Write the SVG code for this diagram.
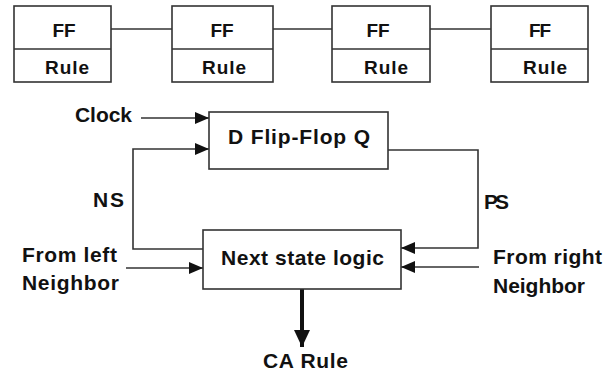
<svg xmlns="http://www.w3.org/2000/svg" width="616" height="373" viewBox="0 0 616 373">
<style>
.box{fill:#fff;stroke:#333;stroke-width:1.6}
.ln{fill:none;stroke:#333;stroke-width:1.6}
.thick{fill:none;stroke:#111;stroke-width:4}
text{font-family:"Liberation Sans",Arial,sans-serif;font-weight:bold;fill:#111}
.s17{font-size:19px}
.s19{font-size:21px}
.mid{text-anchor:middle}
</style>
<defs>
<marker id="arr" viewBox="0 0 14 12" refX="14" refY="6" markerWidth="14" markerHeight="12" markerUnits="userSpaceOnUse" orient="auto">
<path d="M0,0 L14,6 L0,12 z" fill="#111"/>
</marker>
<marker id="big" viewBox="0 0 17 16" refX="17" refY="8" markerWidth="17" markerHeight="16" markerUnits="userSpaceOnUse" orient="auto">
<path d="M0,0 L17,8 L0,16 z" fill="#111"/>
</marker>
</defs>
<g id="connectors">
<line class="ln" x1="111" y1="29" x2="172" y2="29"/>
<line class="ln" x1="273" y1="29" x2="332" y2="29"/>
<line class="ln" x1="430" y1="29" x2="491" y2="29"/>
<line class="ln" x1="141" y1="118" x2="209" y2="118" marker-end="url(#arr)"/>
<path class="ln" d="M203,249 H133 V149 H209" marker-end="url(#arr)"/>
<path class="ln" d="M388,150 H478 V248 H401" marker-end="url(#arr)"/>
<line class="ln" x1="126" y1="268" x2="203" y2="268" marker-end="url(#arr)"/>
<line class="ln" x1="479" y1="267" x2="401" y2="267" marker-end="url(#arr)"/>
<line class="thick" x1="302" y1="289" x2="302" y2="347" marker-end="url(#big)"/>
</g>
<g id="cell1">
<rect class="box" x="14" y="6" width="97" height="76"/>
<line class="ln" x1="14" y1="49" x2="111" y2="49"/>
<text class="s17 mid" x="64" y="37" textLength="23" lengthAdjust="spacing">FF</text>
<text class="s17 mid" x="67" y="74" textLength="44" lengthAdjust="spacing">Rule</text>
</g>
<g id="cell2">
<rect class="box" x="172" y="6" width="101" height="76"/>
<line class="ln" x1="172" y1="49" x2="273" y2="49"/>
<text class="s17 mid" x="222" y="37" textLength="23" lengthAdjust="spacing">FF</text>
<text class="s17 mid" x="224" y="74" textLength="44" lengthAdjust="spacing">Rule</text>
</g>
<g id="cell3">
<rect class="box" x="332" y="6" width="98" height="76"/>
<line class="ln" x1="332" y1="49" x2="430" y2="49"/>
<text class="s17 mid" x="378" y="37" textLength="23" lengthAdjust="spacing">FF</text>
<text class="s17 mid" x="386" y="74" textLength="44" lengthAdjust="spacing">Rule</text>
</g>
<g id="cell4">
<rect class="box" x="491" y="6" width="97" height="76"/>
<line class="ln" x1="491" y1="49" x2="588" y2="49"/>
<text class="s17 mid" x="540" y="37" textLength="22" lengthAdjust="spacing">FF</text>
<text class="s17 mid" x="545" y="74" textLength="44" lengthAdjust="spacing">Rule</text>
</g>
<g id="dff">
<rect class="box" x="209" y="112" width="179" height="57"/>
<text class="s19" x="228" y="144" textLength="142" lengthAdjust="spacing">D Flip-Flop Q</text>
</g>
<g id="nsl">
<rect class="box" x="203" y="230" width="198" height="59"/>
<text class="s19" x="221" y="265" textLength="163" lengthAdjust="spacing">Next state logic</text>
</g>
<g id="labels">
<text class="s19" x="75" y="122" textLength="57" lengthAdjust="spacing">Clock</text>
<text class="s19" x="93" y="207" textLength="31" lengthAdjust="spacing">NS</text>
<text class="s19" x="484" y="209" textLength="25" lengthAdjust="spacing">PS</text>
<text class="s19" x="22" y="262" textLength="95" lengthAdjust="spacing">From left</text>
<text class="s19" x="22" y="290" textLength="97" lengthAdjust="spacing">Neighbor</text>
<text class="s19" x="493" y="264" textLength="109" lengthAdjust="spacing">From right</text>
<text class="s19" x="493" y="293" textLength="92" lengthAdjust="spacing">Neighbor</text>
<text class="s19" x="263" y="368" textLength="85" lengthAdjust="spacing">CA Rule</text>
</g>
</svg>
